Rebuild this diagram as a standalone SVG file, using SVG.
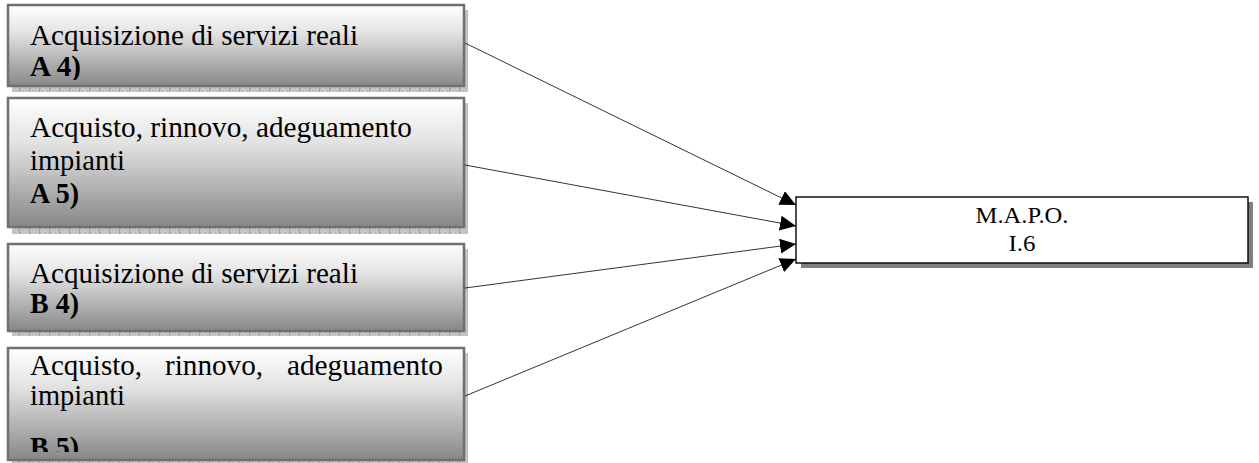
<svg xmlns="http://www.w3.org/2000/svg" width="1259" height="463" viewBox="0 0 1259 463">
  <defs>
    <linearGradient id="boxFill" x1="0" y1="0" x2="0" y2="1">
      <stop offset="0" stop-color="#ffffff"/>
      <stop offset="0.35" stop-color="#e2e2e2"/>
      <stop offset="1" stop-color="#878787"/>
    </linearGradient>
    <pattern id="shadowTex" width="10" height="4" patternUnits="userSpaceOnUse">
      <rect width="10" height="4" fill="#c6c6c6"/>
      <rect x="0" y="0" width="1" height="1" fill="#9c9c9c"/>
      <rect x="2" y="2" width="1" height="1" fill="#a8a8a8"/>
      <rect x="5" y="0" width="1" height="1" fill="#a8a8a8"/>
      <rect x="7" y="2" width="1" height="1" fill="#a8a8a8"/>
      <rect x="9" y="0" width="1" height="4" fill="#a0a0a0"/>
    </pattern>
    <marker id="arrow" viewBox="0 0 16 15" refX="16" refY="7.5" markerWidth="16" markerHeight="15" markerUnits="userSpaceOnUse" orient="auto">
      <path d="M0,0 L16,7.5 L0,15 Z" fill="#000"/>
    </marker>
    <clipPath id="clip1"><rect x="9" y="6" width="454" height="74"/></clipPath>
    <clipPath id="clip2"><rect x="9" y="99" width="454" height="124"/></clipPath>
    <clipPath id="clip3"><rect x="9" y="245" width="454" height="82"/></clipPath>
    <clipPath id="clip4"><rect x="9" y="349" width="454" height="103"/></clipPath>
  </defs>
  <style>
    .shadow { fill: url(#shadowTex); }
    .box { fill: url(#boxFill); stroke: #707070; stroke-width: 2.5; }
    .txt { font-family: "Liberation Serif", "Times New Roman", serif; font-size: 29px; fill: #000; }
    .bold { font-weight: bold; }
    .conn { stroke: #000; stroke-width: 0.8; fill: none; marker-end: url(#arrow); }
    .target { fill: #fff; stroke: #000; stroke-width: 1.4; }
    .target-shadow { fill: #7f7f7f; }
    .ttxt { font-family: "Liberation Serif", "Times New Roman", serif; font-size: 24px; fill: #000; text-anchor: middle; }
  </style>

  <!-- source boxes -->
  <g id="node-a4">
    <rect class="shadow" x="12" y="10" width="456" height="82"/>
    <rect class="box" x="8" y="5" width="456" height="81"/>
    <g clip-path="url(#clip1)">
      <text class="txt" x="30" y="45" textLength="328" lengthAdjust="spacingAndGlyphs">Acquisizione di servizi reali</text>
      <text class="txt bold" x="30" y="76" textLength="51" lengthAdjust="spacingAndGlyphs">A 4)</text>
    </g>
  </g>

  <g id="node-a5">
    <rect class="shadow" x="12" y="103" width="456" height="131"/>
    <rect class="box" x="8" y="98" width="456" height="129"/>
    <g clip-path="url(#clip2)">
      <text class="txt" x="30" y="137" textLength="382" lengthAdjust="spacingAndGlyphs">Acquisto, rinnovo, adeguamento</text>
      <text class="txt" x="30" y="170" textLength="95" lengthAdjust="spacingAndGlyphs">impianti</text>
      <text class="txt bold" x="30" y="203" textLength="49" lengthAdjust="spacingAndGlyphs">A 5)</text>
    </g>
  </g>

  <g id="node-b4">
    <rect class="shadow" x="12" y="249" width="456" height="87"/>
    <rect class="box" x="8" y="244" width="456" height="87"/>
    <g clip-path="url(#clip3)">
      <text class="txt" x="30" y="283" textLength="328" lengthAdjust="spacingAndGlyphs">Acquisizione di servizi reali</text>
      <text class="txt bold" x="30" y="313" textLength="49" lengthAdjust="spacingAndGlyphs">B 4)</text>
    </g>
  </g>

  <g id="node-b5">
    <rect class="shadow" x="12" y="353" width="456" height="110"/>
    <rect class="box" x="8" y="348" width="456" height="112"/>
    <g clip-path="url(#clip4)">
      <text class="txt" x="30" y="375" textLength="112" lengthAdjust="spacingAndGlyphs">Acquisto,</text>
      <text class="txt" x="165" y="375" textLength="98" lengthAdjust="spacingAndGlyphs">rinnovo,</text>
      <text class="txt" x="287" y="375" textLength="156" lengthAdjust="spacingAndGlyphs">adeguamento</text>
      <text class="txt" x="30" y="405" textLength="95" lengthAdjust="spacingAndGlyphs">impianti</text>
      <text class="txt bold" x="30" y="457" textLength="49" lengthAdjust="spacingAndGlyphs">B 5)</text>
    </g>
  </g>

  <!-- target box -->
  <g id="node-mapo">
    <rect class="target-shadow" x="801" y="202" width="452" height="66"/>
    <rect class="target" x="796" y="197" width="452" height="66"/>
    <text class="ttxt" x="1022" y="223" textLength="93" lengthAdjust="spacingAndGlyphs">M.A.P.O.</text>
    <text class="ttxt" x="1022" y="251" textLength="27" lengthAdjust="spacingAndGlyphs">I.6</text>
  </g>

  <!-- connectors -->
  <g id="connectors">
    <line class="conn" x1="465" y1="43" x2="796" y2="205"/>
    <line class="conn" x1="465" y1="165" x2="796" y2="226"/>
    <line class="conn" x1="465" y1="288" x2="796" y2="244"/>
    <line class="conn" x1="465" y1="396" x2="796" y2="259"/>
  </g>
</svg>
